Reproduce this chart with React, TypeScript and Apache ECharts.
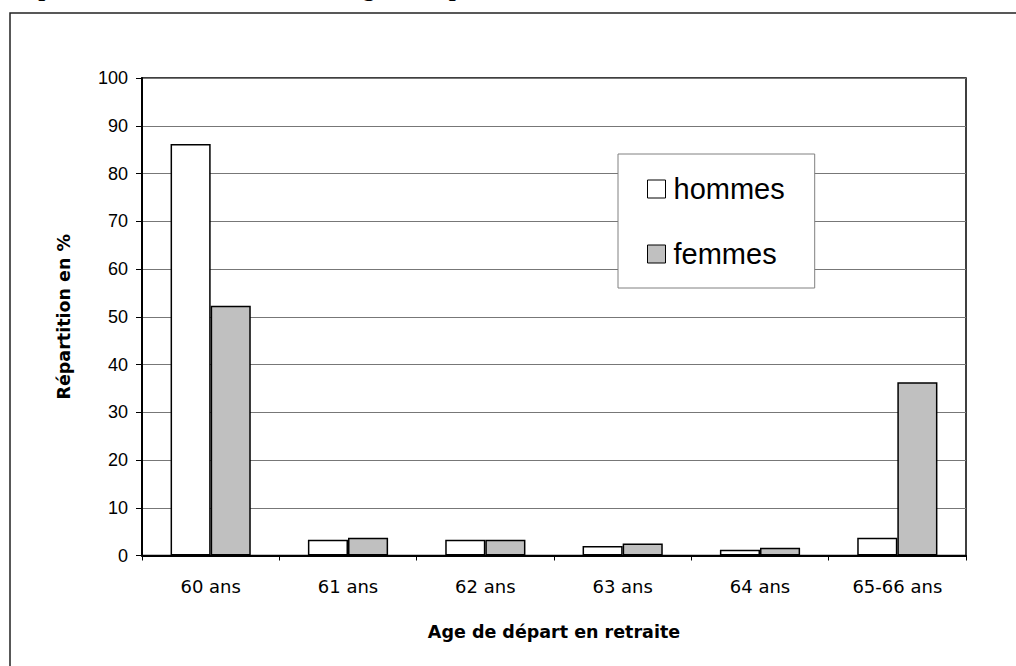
import React, { useEffect, useRef } from "react";
import * as echarts from "echarts";

const categories = ["60 ans", "61 ans", "62 ans", "63 ans", "64 ans", "65-66 ans"];
const hommes = [86.2, 3.3, 3.3, 2.0, 1.2, 3.7];
const femmes = [52.3, 3.7, 3.3, 2.5, 1.6, 36.3];
const yTicks = { min: 0, max: 100, interval: 10 };
const titleText = "Répartition des retraités selon l'âge de départ";
const xName = "Age de départ en retraite";
const yName = "Répartition en %";

const FONT = 'Arial, "Liberation Sans", sans-serif';
const WIDE = '"DejaVu Sans", Arial, sans-serif';

export default function App() {
  const ref = useRef<HTMLDivElement>(null);
  useEffect(() => {
    if (!ref.current) return;
    const chart = echarts.init(ref.current, undefined, { renderer: "svg" });
    chart.setOption({
      animation: false,
      backgroundColor: "#fff",
      graphic: [
        {
          type: "rect",
          shape: { x: 10, y: 13, width: 1100, height: 800 },
          style: { fill: "none", stroke: "#222", lineWidth: 1.5 },
          silent: true,
          z: 0,
        },
        {
          type: "text",
          x: 9,
          y: -12.5,
          style: {
            text: titleText,
            font: 'bold 25px "Liberation Serif", "Times New Roman", serif',
            fill: "#000",
            verticalAlign: "middle",
            align: "left",
          },
          silent: true,
        },
      ],
      grid: {
        left: 142,
        top: 78,
        right: 50,
        bottom: 110.5,
        show: true,
        borderColor: "#000",
        borderWidth: 1.5,
        backgroundColor: "transparent",
      },
      legend: {
        data: ["hommes", "femmes"],
        orient: "vertical",
        left: 618,
        top: 154,
        padding: [18, 30, 17, 29],
        itemGap: 31,
        itemWidth: 18,
        itemHeight: 18,
        icon: "rect",
        backgroundColor: "#fff",
        borderColor: "#808080",
        borderWidth: 1,
        itemStyle: { borderColor: "#000", borderWidth: 1 },
        textStyle: {
          fontSize: 29,
          fontFamily: FONT,
          color: "#000",
          lineHeight: 34,
          padding: [0, 0, 0, 3],
        },
      },
      xAxis: {
        type: "category",
        data: categories,
        boundaryGap: true,
        axisLine: { show: true, lineStyle: { color: "#000", width: 2 } },
        axisTick: { show: true, length: 5, lineStyle: { color: "#000", width: 1 } },
        axisLabel: { fontSize: 18, color: "#000", fontFamily: WIDE, margin: 22 },
        name: xName,
        nameLocation: "middle",
        nameGap: 67,
        nameTextStyle: { fontSize: 17.5, fontWeight: "bold", color: "#000", fontFamily: WIDE },
      },
      yAxis: {
        type: "value",
        min: yTicks.min,
        max: yTicks.max,
        interval: yTicks.interval,
        axisLine: { show: true, lineStyle: { color: "#000", width: 2 } },
        axisTick: { show: true, length: 6, lineStyle: { color: "#000", width: 1 } },
        axisLabel: { fontSize: 18, color: "#000", fontFamily: FONT, margin: 14 },
        splitLine: { show: true, lineStyle: { color: "#777", width: 1 } },
        name: yName,
        nameLocation: "middle",
        nameGap: 69,
        nameRotate: 90,
        nameTextStyle: { fontSize: 17.5, fontWeight: "bold", color: "#000", fontFamily: WIDE },
      },
      series: [
        {
          name: "hommes",
          type: "bar",
          data: hommes,
          barGap: "0%",
          barCategoryGap: "41.6%",
          itemStyle: { color: "#ffffff", borderColor: "#000", borderWidth: 1.5 },
        },
        {
          name: "femmes",
          type: "bar",
          data: femmes,
          barGap: "0%",
          barCategoryGap: "41.6%",
          itemStyle: { color: "#c0c0c0", borderColor: "#000", borderWidth: 1.5 },
        },
      ],
    });
    return () => chart.dispose();
  }, []);
  return (
    <div
      ref={ref}
      style={{ position: "absolute", left: 0, top: 0, width: 1016, height: 666 }}
    />
  );
}
